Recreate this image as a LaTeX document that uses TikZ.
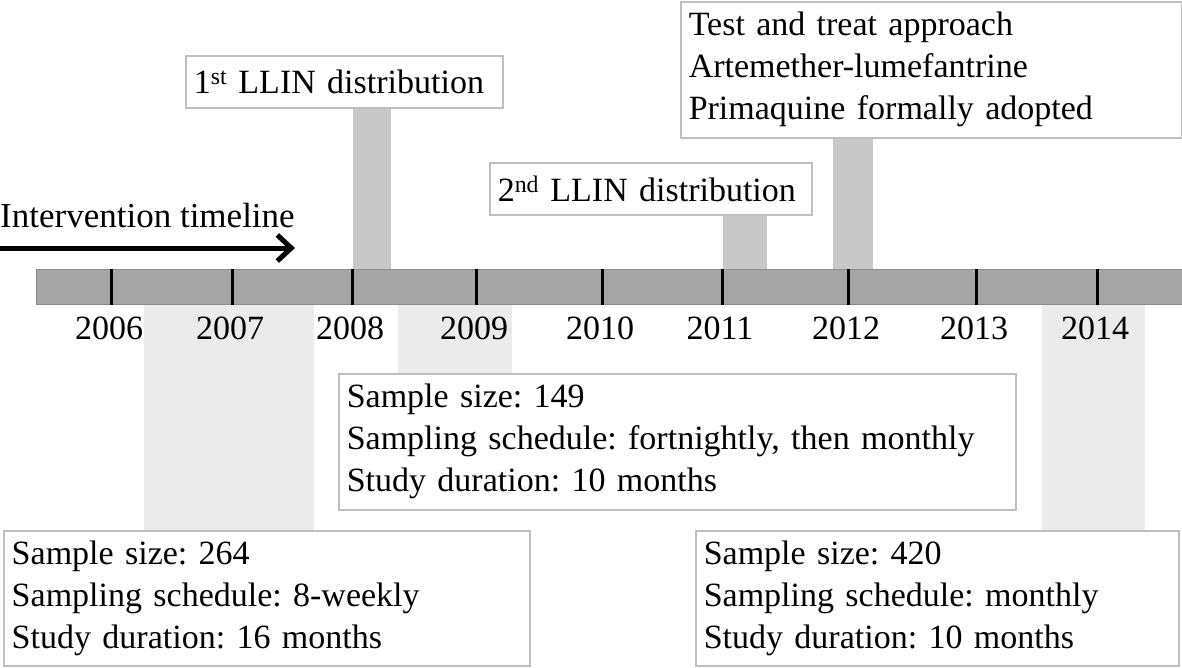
\documentclass[tikz,border=0pt]{standalone}
\usepackage{fontspec}
\setmainfont{Liberation Serif}
\frenchspacing
\usetikzlibrary{arrows.meta,calc,backgrounds}
\definecolor{BarClr}{HTML}{A6A6A6}
\definecolor{BarEdgeClr}{HTML}{8C8C8C}
\definecolor{EventClr}{HTML}{C8C8C8}
\definecolor{StudyClr}{HTML}{EBEBEB}
\definecolor{BoxClr}{HTML}{BFBFBF}

\tikzset{
  infobox/.style={draw=BoxClr,fill=white,line width=1.5pt,anchor=north west,
    align=left,inner xsep=8pt,inner ysep=0pt},
  yearlbl/.style={anchor=base,inner sep=0pt},
  tickmark/.style={line width=3pt,color=black},
}

\begin{document}
\begin{tikzpicture}[x=1pt,y=-1pt,font=\fontsize{34}{42}\selectfont]
\useasboundingbox (0,0) rectangle (1182,667);

\node[draw=BarEdgeClr,fill=BarClr,line width=1pt,minimum width=1146pt,minimum height=35pt,
  inner sep=0pt,anchor=north west] (tl) at (36,269) {};

\foreach \x/\yr in {111/2006,232/2007,352/2008,476/2009,602/2010,722/2011,848/2012,976/2013,1097/2014}{
  \draw[tickmark] (\x,0 |- tl.north) -- (\x,0 |- tl.south);
  \node[yearlbl] (y\yr) at (\x-2,339) {\yr};
}

\coordinate (arrS) at (0,248);
\coordinate (arrE) at (295,248);
\draw[line width=5pt,-{Straight Barb[length=14pt,width=26pt]}] (arrS) -- (arrE);
\node[anchor=base west,inner sep=0pt,font=\fontsize{35}{42}\selectfont] (title) at (0,227) {Intervention timeline};

\node[infobox,text width=301pt,minimum height=52pt] (llin1) at (185,55) {1\textsuperscript{st} LLIN distribution};
\node[infobox,text width=306pt,minimum height=52pt] (llin2) at (489,162) {2\textsuperscript{nd} LLIN distribution};
\node[infobox,text width=485pt,minimum height=136pt] (policy) at (680,1)
  {Test and treat approach\\Artemether-lumefantrine\\Primaquine formally adopted};
\node[infobox,text width=661pt,minimum height=136pt] (study2) at (338,373)
  {Sample size: 149\\Sampling schedule: fortnightly, then monthly\\Study duration: 10 months};
\node[infobox,text width=510pt,minimum height=135pt] (study1) at (3,530)
  {Sample size: 264\\Sampling schedule: 8-weekly\\Study duration: 16 months};
\node[infobox,text width=467pt,minimum height=135pt] (study3) at (695,530)
  {Sample size: 420\\Sampling schedule: monthly\\Study duration: 10 months};

\begin{scope}[on background layer]
  \fill[EventClr] (353,0 |- llin1.south) rectangle (391,0 |- tl.north);
  \fill[EventClr] (723,0 |- llin2.south) rectangle (767,0 |- tl.north);
  \fill[EventClr] (833,0 |- policy.south) rectangle (873,0 |- tl.north);
  \fill[StudyClr] (144,0 |- tl.south) rectangle (314,0 |- study1.north);
  \fill[StudyClr] (398,0 |- tl.south) rectangle (512,0 |- study2.north);
  \fill[StudyClr] (1042,0 |- tl.south) rectangle (1145,0 |- study3.north);
\end{scope}

\end{tikzpicture}
\end{document}
